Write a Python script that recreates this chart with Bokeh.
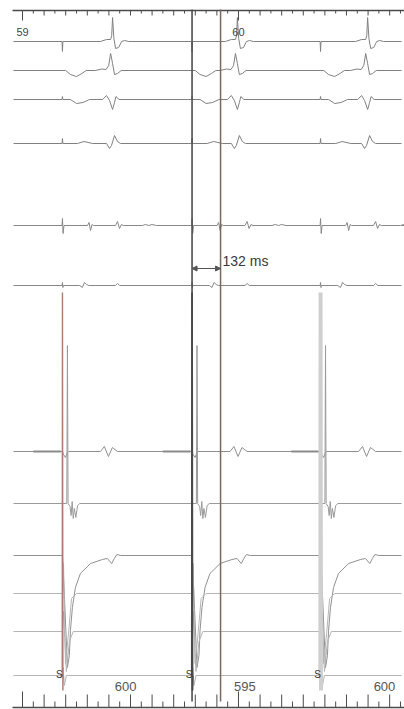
import numpy as np
from bokeh.plotting import figure
from bokeh.models import Range1d, Arrow, NormalHead
from bokeh.embed import file_html
from bokeh.resources import INLINE
from bokeh.core.properties import value

MS_PER_PX = 4.63            # paper speed of the recording
T_59 = 59000.0              # time of the "59" second mark (ms)

stim1_ms = 59185            # first stimulus
cycle_lengths = [600, 595, 600]          # paced cycle lengths (ms)
cycle_labels = ["600", "595", "600"]
av_delay_ms = [232, 210, 218]            # stimulus -> QRS
caliper_ms = 132                         # measured interval
second_marks = [59000, 60000]
second_labels = ["59", "60"]
stim_label = "S"

# waveform templates: (ms after event, amplitude)
R1_STIM = [(-2, 0), (0, -10), (2, 0)]
R1_QRS = [(-56, 0), (-28, 2), (-9, 2), (-4, 6), (0, 24), (6, 3), (14, -7), (28, -6), (42, 0), (56, 1), (74, 0)]
R2_STIM = [(15, 0), (37, -4), (65, -6), (90, -3), (110, 0)]
R2_QRS = [(-80, 0), (-50, 1.5), (-30, 1), (-18, 5), (-9, 17), (0, 7), (9, -4), (23, -3), (40, 0)]
R3_STIM = [(-2, 0), (0, 3), (2, 0), (37, 0), (65, -4), (95, -3), (125, 0)]
R3_QRS = [(-46, 0), (-28, 4), (-14, -1), (0, -10), (9, -3), (16, 3), (30, 0)]
R4_STIM = [(-2, 0), (0, 5), (2, 0), (70, 0), (100, 2), (140, 0)]
R4_QRS = [(-28, 0), (-14, -5), (-5, -2), (9, 8), (23, 2), (37, 0)]
R5_STIM = [(-2, 0), (0, 7), (3, -8), (7, 0), (116, 0), (123, 3), (130, -5), (137, 1), (144, 0),
           (245, 0), (255, 4), (264, -3), (273, 1), (282, 0), (370, 0), (385, 1), (400, 0), (415, 1), (435, 0)]
R6_STIM = [(-2, 0), (0, 3), (2, -2), (4, 0), (80, 0), (92, -2), (102, 3), (112, 1), (122, 0),
           (245, 0), (255, 2), (265, 0)]
R7_STIM = [(0, 0), (5, -3), (14, -6), (23, -1), (28, 0), (176, 0), (194, 5), (213, -5), (231, 4), (255, 0)]
R7_PRE = [(-135, 0), (-8, 0)]            # darker, heavier stretch before each stimulus
R8_STIM = [(20, 0), (23, 158), (26, 0), (35, -3), (40, -12), (45, 2), (50, -15), (55, -5), (62, -14), (70, -2), (80, 0)]
R9_STIM = [(0, 0), (9, -40), (23, -112), (32, -100), (37, -75), (46, -52), (60, -32), (83, -18), (130, -8),
           (185, -4), (208, -3), (228, -8), (240, -3), (252, 1), (270, 0)]
R10_STIM = [(0, 0), (5, 30), (14, -70), (28, -40), (42, -5), (65, 0)]
R11_STIM = [(0, 0), (5, 20), (18, -40), (32, -10), (50, 0)]
R12_STIM = [(0, 0), (3, 8), (9, -10), (18, 0)]
STIM_SPIKE = [(-1, 0), (0, 383), (2, -15), (3, 0)]

# ---------------- layout ----------------
def t_of_px(px):
    return T_59 + (px - 22) * MS_PER_PX

BASE = [41, 70, 99, 143, 225, 285, 451, 503, 555, 593, 631, 675]
CHANNELS = [
    (R1_STIM, R1_QRS, "#808080"), (R2_STIM, R2_QRS, "#808080"), (R3_STIM, R3_QRS, "#808080"),
    (R4_STIM, R4_QRS, "#808080"), (R5_STIM, [], "#878787"), (R6_STIM, [], "#878787"),
    (R7_STIM, [], "#8f8f8f"), (R8_STIM, [], "#9a9a9a"), (R9_STIM, [], "#909090"),
    (R10_STIM, [], "#b5b5b5"), (R11_STIM, [], "#b5b5b5"), (R12_STIM, [], "#b5b5b5"),
]
SPIKE_COLORS = ["#b07a70", "#3c3c3c", "#cfcfcf"]
SPIKE_WIDTHS = [1.4, 1.8, 4.0]
LABEL_OFFSETS = [292, 245, 296]

stim_times = [stim1_ms]
for cl in cycle_lengths[:-1]:
    stim_times.append(stim_times[-1] + cl)

X0, X1 = t_of_px(13), t_of_px(401)

p = figure(width=404, height=709, x_range=Range1d(t_of_px(0), t_of_px(404)),
           y_range=Range1d(-709, 0), output_backend="svg", toolbar_location=None,
           min_border=0, x_axis_location=None, y_axis_location=None)
p.outline_line_color = None
p.xgrid.grid_line_color = None
p.ygrid.grid_line_color = None
p.background_fill_color = "white"
p.border_fill_color = "white"

FONT = value("Liberation Sans")

# channels
for base, (stpl, qtpl, col) in zip(BASE, CHANNELS):
    ev = []
    for s, d in zip(stim_times, av_delay_ms):
        ev += [(s + dt, dy) for dt, dy in stpl]
        ev += [(s + d + dt, dy) for dt, dy in qtpl]
    ev.sort(key=lambda e: e[0])
    xs = [X0] + [e[0] for e in ev] + [X1]
    ys = [-base] + [-base + e[1] for e in ev] + [-base]
    p.line(xs, ys, line_color=col, line_width=1)

# heavier stretches of channel 7
for s in stim_times:
    p.line([s + dt for dt, _ in R7_PRE], [-BASE[6] + dy for _, dy in R7_PRE],
           line_color="#8a8a8a", line_width=2)

# big stimulus artifacts
for s, c, w in zip(stim_times, SPIKE_COLORS, SPIKE_WIDTHS):
    p.line([s + dt for dt, _ in STIM_SPIKE], [-BASE[-1] + dy for _, dy in STIM_SPIKE],
           line_color=c, line_width=w)

# top ruler
top_y = -10
p.line([t_of_px(12), t_of_px(404)], [top_y, top_y], line_color="#4a4a4a", line_width=1.3)
ticks = np.arange(T_59 - 200, T_59 + 1800 + 1, 50)
ticks = ticks[(ticks >= t_of_px(12)) & (ticks <= t_of_px(403))]
def tick_len(t, l1, l2, l3):
    if t % 1000 == 0:
        return l1
    if t % 100 == 0:
        return l2
    return l3
p.segment(x0=list(ticks), y0=[top_y] * len(ticks), x1=list(ticks),
          y1=[top_y - tick_len(t, 10, 5, 3) for t in ticks], line_color="#4a4a4a", line_width=1)
p.text(x=second_marks, y=[-31] * 2, text=second_labels, text_font=FONT, text_font_size="11px",
       text_align="center", text_baseline="middle", text_color="#444444")

# bottom ruler
bot_y = -707
p.line([t_of_px(12), t_of_px(404)], [bot_y, bot_y], line_color="#4a4a4a", line_width=1.3)
p.segment(x0=list(ticks), y0=[bot_y] * len(ticks), x1=list(ticks),
          y1=[bot_y + tick_len(t, 16, 13, 6) for t in ticks], line_color="#4a4a4a", line_width=1)

# cycle length labels and stim labels
p.text(x=[s + o for s, o in zip(stim_times, LABEL_OFFSETS)], y=[-686] * 3, text=cycle_labels,
       text_font=FONT, text_font_size="13px", text_align="center", text_baseline="middle",
       text_color="#555555")
p.text(x=[s - 14 for s in stim_times], y=[-674] * 3, text=[stim_label] * 3, text_font=FONT,
       text_font_size="10px", text_align="center", text_baseline="middle", text_color="#333333")

# calipers
c0 = stim_times[1]
c1 = c0 + caliper_ms
p.segment(x0=[c0], y0=[-9], x1=[c0], y1=[-701], line_color="#4d4d4d", line_width=1.6)
p.segment(x0=[c1], y0=[-9], x1=[c1], y1=[-701], line_color="#786860", line_width=1.5)
p.add_layout(Arrow(start=NormalHead(size=5, fill_color="#555555", line_color="#555555"),
                   end=NormalHead(size=5, fill_color="#555555", line_color="#555555"),
                   x_start=c0, x_end=c1, y_start=-268, y_end=-268,
                   line_color="#555555", line_width=1))
p.text(x=[c1 + 9], y=[-260], text=["%d ms" % caliper_ms], text_font=FONT, text_font_size="14px",
       text_align="left", text_baseline="middle", text_color="#3a3a3a")

open("out.html", "w").write(file_html(p, INLINE))
